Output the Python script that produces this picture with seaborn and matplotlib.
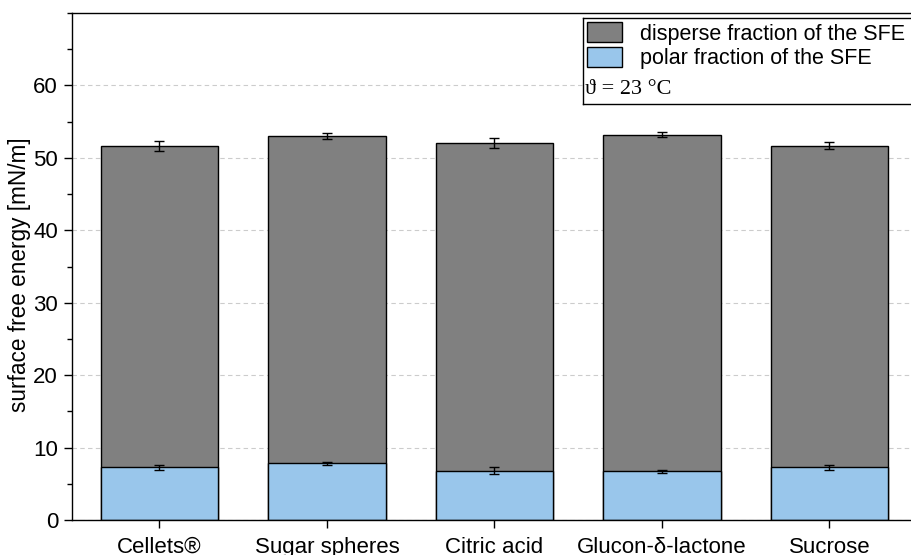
import numpy as np
import pandas as pd
import matplotlib
matplotlib.use("Agg")
import matplotlib.pyplot as plt
import seaborn as sns
from matplotlib.patches import Patch, Rectangle
from matplotlib.lines import Line2D
from matplotlib.ticker import MultipleLocator

categories = ["Cellets®", "Sugar spheres", "Citric acid", "Glucon-δ-lactone", "Sucrose"]
total_sfe = [51.6, 53.0, 52.0, 53.2, 51.7]
total_err = [0.7, 0.4, 0.7, 0.35, 0.45]
polar_sfe = [7.3, 7.85, 6.8, 6.7, 7.3]
polar_err = [0.35, 0.2, 0.5, 0.2, 0.35]
legend_labels = ["disperse fraction of the SFE", "polar fraction of the SFE"]
note_text = "ϑ = 23 °C"

gray = "#808080"
blue = "#99C6EB"

sns.set_style("ticks")
plt.rcParams["font.family"] = ["Liberation Sans", "DejaVu Sans"]
plt.rcParams["text.color"] = "black"
plt.rcParams["axes.labelcolor"] = "black"
plt.rcParams["xtick.color"] = "black"
plt.rcParams["ytick.color"] = "black"

fig = plt.figure(figsize=(9.12, 5.55), dpi=100)
ax_w_px = 840
ax = fig.add_axes([72/912, 35/555, ax_w_px/912, 507/555])

df = pd.DataFrame({"category": categories, "total": total_sfe, "polar": polar_sfe})
sns.barplot(data=df, x="category", y="total", color=gray, width=0.7,
            edgecolor="black", linewidth=1.0, saturation=1, ax=ax, zorder=2)
sns.barplot(data=df, x="category", y="polar", color=blue, width=0.7,
            edgecolor="black", linewidth=1.0, saturation=1, ax=ax, zorder=2)

xpos = np.arange(len(categories))
ax.errorbar(xpos, total_sfe, yerr=total_err, fmt="none", ecolor="black",
            elinewidth=1.0, capsize=3.5, capthick=1.0, zorder=3)
ax.errorbar(xpos, polar_sfe, yerr=polar_err, fmt="none", ecolor="black",
            elinewidth=1.0, capsize=3.5, capthick=1.0, zorder=3)

ax.set_xlim(-0.522, 4.493)
ax.set_ylim(0, 70)
ax.set_yticks(np.arange(0, 61, 10))
ax.yaxis.set_minor_locator(MultipleLocator(5))
ax.yaxis.grid(True, which="major", linestyle=(0, (4, 3)), color="#cccccc", linewidth=0.8)
ax.xaxis.grid(False)
ax.set_axisbelow(True)

ax.set_xlabel("")
ax.set_ylabel("surface free energy [mN/m]", fontsize=16.3)
ax.yaxis.set_label_coords((31 - 72) / ax_w_px, 1 - (275 - 13) / 507)
ax.tick_params(axis="both", which="major", labelsize=16, direction="out",
               length=6, width=1.0, color="black", labelcolor="black")
ax.tick_params(axis="y", which="minor", direction="out", length=3.5, width=1.0)
ax.tick_params(axis="x", pad=6)
ax.tick_params(axis="y", pad=4)
for name, s in ax.spines.items():
    s.set_linewidth(1.0)
    s.set_color("black")
ax.spines["right"].set_visible(False)

# legend frame (open on the right, it runs past the figure edge) and content
tf = fig.transFigure
x0, x1 = 583/912, 1.0
y_top, y_bot = 1 - 18/555, 1 - 104/555
ax.add_patch(Rectangle((x0, y_bot), x1 - x0, y_top - y_bot, transform=tf,
                       facecolor="white", edgecolor="none", linewidth=0,
                       clip_on=False, zorder=4))
for xs, ys in [((x0, x1), (y_top, y_top)), ((x0, x1), (y_bot, y_bot)),
               ((x0, x0), (y_bot, y_top))]:
    ax.add_line(Line2D(xs, ys, transform=tf, color="black", linewidth=1.0,
                       clip_on=False, zorder=4.5, solid_capstyle="projecting"))
handles = [Patch(facecolor=gray, edgecolor="black", linewidth=1.0),
           Patch(facecolor=blue, edgecolor="black", linewidth=1.0)]
leg = ax.legend(handles, legend_labels, loc="upper left", frameon=False,
                bbox_to_anchor=(584/912, 1 - 19/555), bbox_transform=tf,
                borderaxespad=0, borderpad=0.15, fontsize=15.5,
                handlelength=1.63, handleheight=1.05, handletextpad=0.8,
                labelspacing=0.12)
leg.set_zorder(5)
ax.text(585/912, 1 - 90/555, note_text, transform=tf, fontsize=16,
        family=["Liberation Serif", "DejaVu Serif"], va="center", ha="left",
        zorder=6)

fig.savefig("out.png", dpi=100, facecolor="white")
